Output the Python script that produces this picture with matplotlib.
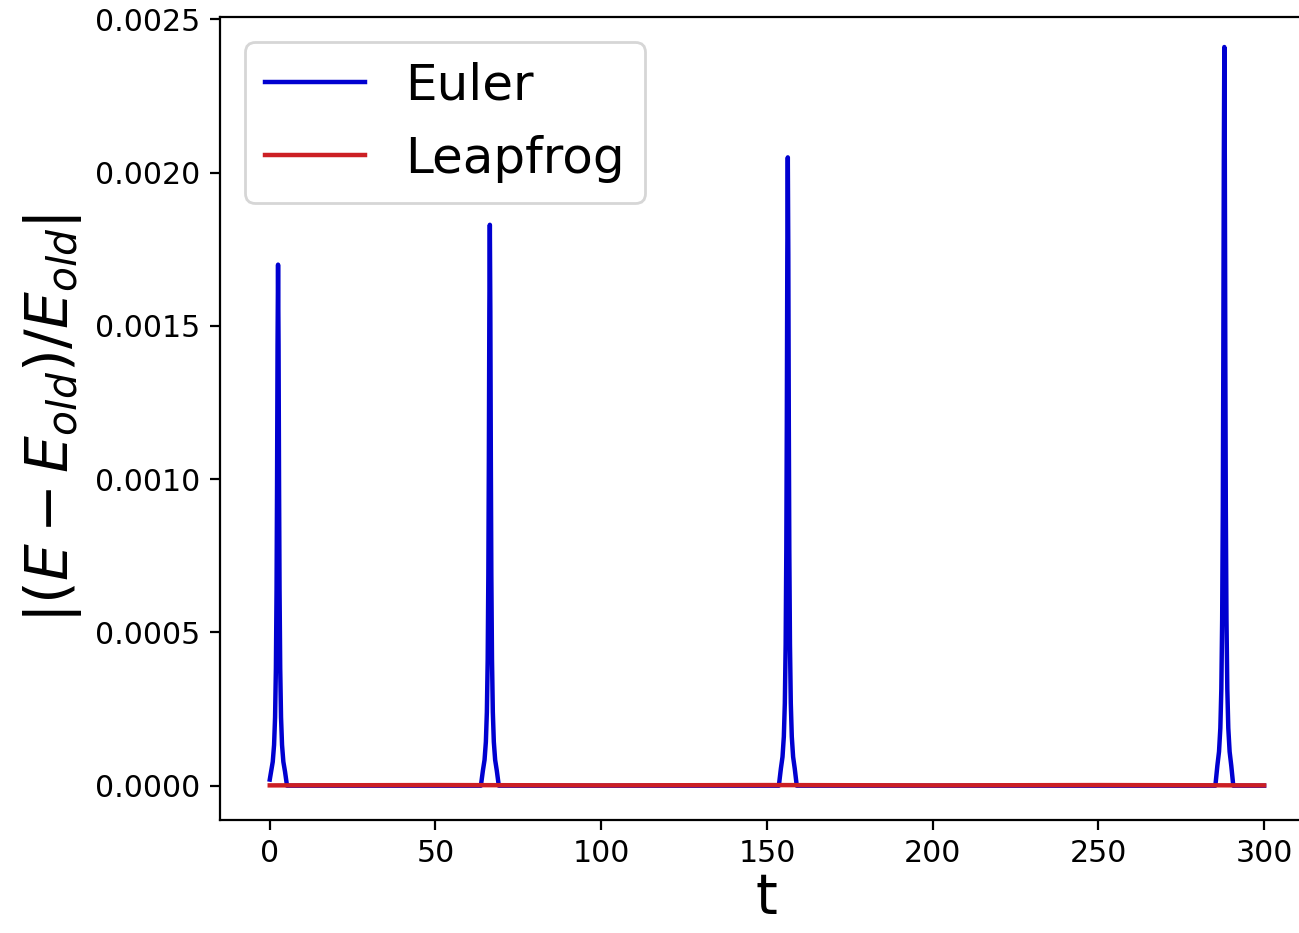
import matplotlib
matplotlib.use("Agg")
import matplotlib.pyplot as plt

# Euler energy error: four narrow spikes, otherwise ~0
euler_t = [0.0, 0.4, 0.9, 1.3, 1.6, 1.85, 2.05, 2.2, 2.35, 2.5,
           2.65, 2.8, 2.95, 3.15, 3.4, 3.7, 4.1, 4.6, 5.2,
           63.7, 64.3, 64.8, 65.2, 65.5, 65.75, 65.95, 66.1, 66.25, 66.4,
           66.55, 66.7, 66.85, 67.05, 67.3, 67.6, 68.0, 68.5, 69.1,
           153.6, 154.2, 154.7, 155.1, 155.4, 155.65, 155.85, 156.0, 156.15, 156.3,
           156.45, 156.6, 156.75, 156.95, 157.2, 157.5, 157.9, 158.4, 159.0,
           285.3, 285.9, 286.4, 286.8, 287.1, 287.35, 287.55, 287.7, 287.85, 288.0,
           288.15, 288.3, 288.45, 288.65, 288.9, 289.2, 289.6, 290.1, 290.7,
           300.0]
euler_err = [0.00002, 0.000046, 0.000078, 0.000133, 0.000223, 0.000383, 0.000641, 0.000981, 0.001437, 0.00170,
             0.001437, 0.000981, 0.000641, 0.000383, 0.000223, 0.000133, 0.000078, 0.000046, 0.0,
             0.0, 0.000049, 0.000084, 0.000143, 0.000240, 0.000412, 0.000690, 0.001056, 0.001546, 0.00183,
             0.001546, 0.001056, 0.000690, 0.000412, 0.000240, 0.000143, 0.000084, 0.000049, 0.0,
             0.0, 0.000055, 0.000094, 0.000160, 0.000269, 0.000461, 0.000773, 0.001183, 0.001732, 0.00205,
             0.001732, 0.001183, 0.000773, 0.000461, 0.000269, 0.000160, 0.000094, 0.000055, 0.0,
             0.0, 0.000065, 0.000111, 0.000188, 0.000316, 0.000542, 0.000909, 0.001391, 0.002036, 0.00241,
             0.002036, 0.001391, 0.000909, 0.000542, 0.000316, 0.000188, 0.000111, 0.000065, 0.0,
             0.0]

# Leapfrog stays essentially flat
leap_t = [0, 50, 100, 150, 200, 250, 300]
leap_err = [0.000001, 0.000002, 0.000001, 0.000002, 0.000001, 0.000002, 0.000001]

fig = plt.figure(figsize=(6.495, 4.665), dpi=200)
# right edge of the axes lies past the canvas, as in the original crop
ax = fig.add_axes([0.1694, 0.1211, 0.842, 0.8607])

ax.plot(euler_t, euler_err, color="#0000d0", lw=1.6, label="Euler")
ax.plot(leap_t, leap_err, color="#cc1f24", lw=1.6, label="Leapfrog")

ax.set_xlim(-15, 315)
ax.set_ylim(-0.000112, 0.002508)
ax.set_xticks([0, 50, 100, 150, 200, 250, 300])
ax.set_yticks([0.0, 0.0005, 0.0010, 0.0015, 0.0020, 0.0025])
ax.set_yticklabels(["0.0000", "0.0005", "0.0010", "0.0015", "0.0020", "0.0025"])
ax.tick_params(labelsize=10.8)

ax.set_xlabel("t", fontsize=20, labelpad=1)
ax.set_ylabel(r"$|(E - E_{old})/E_{old}|$", fontsize=21)
ax.legend(loc="upper left", fontsize=18)

fig.savefig("out.png", dpi=200)
